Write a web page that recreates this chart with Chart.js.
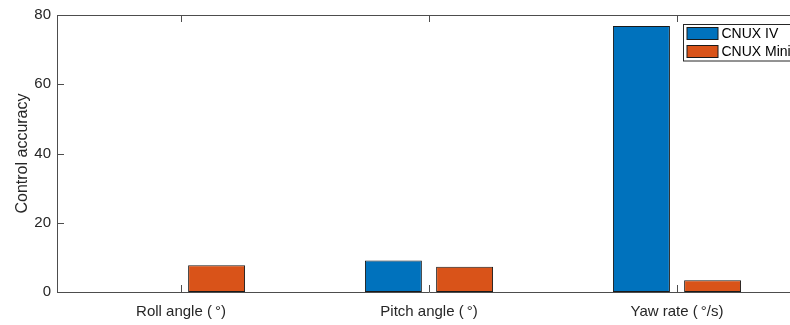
<!DOCTYPE html>
<html>
<head>
<meta charset="utf-8">
<script src="https://cdn.jsdelivr.net/npm/chart.js@4/dist/chart.umd.min.js"></script>
<style>
  html, body { margin: 0; padding: 0; background: #fff; overflow: hidden; }
  #wrap { width: 801px; height: 325px; position: relative; }
</style>
</head>
<body>
<div id="wrap"><canvas id="grafik"></canvas></div>
<script>
const kategoriler = ['Roll angle (\u2009\u00B0)', 'Pitch angle (\u2009\u00B0)', 'Yaw rate (\u2009\u00B0/s)'];
const seriAdlari = ['CNUX IV', 'CNUX Mini'];
const cnuxIV = [null, 9.1, 76.8];
const cnuxMini = [7.7, 7.3, 3.4];
const yTikler = [0, 20, 40, 60, 80];

const renkler = ['#0072BD', '#D95319'];
const eksenRengi = '#262626';
const yazi = '"Liberation Sans", Arial, Helvetica, sans-serif';

// MATLAB style inward ticks + top border
const icTikler = {
  id: 'icTikler',
  afterDraw(chart) {
    const { ctx, chartArea: a, scales: { x, y } } = chart;
    ctx.save();
    ctx.strokeStyle = '#4d4d4d';
    ctx.lineWidth = 1;
    ctx.beginPath();
    ctx.moveTo(a.left, a.top + 0.5);
    ctx.lineTo(a.right, a.top + 0.5);
    x.ticks.forEach((t, i) => {
      const px = Math.round(x.getPixelForTick(i)) + 0.5;
      ctx.moveTo(px, a.bottom);
      ctx.lineTo(px, a.bottom - 7);
      ctx.moveTo(px, a.top);
      ctx.lineTo(px, a.top + 7);
    });
    y.ticks.forEach((t, i) => {
      const py = Math.round(y.getPixelForTick(i)) + 0.5;
      ctx.moveTo(a.left, py);
      ctx.lineTo(a.left + 7, py);
    });
    ctx.stroke();
    ctx.restore();
  }
};

// legend box inside the axes, top right
const icLejant = {
  id: 'icLejant',
  afterDraw(chart) {
    const { ctx } = chart;
    const x0 = 683.5, y0 = 24.5, w = 112, h = 36.5;
    ctx.save();
    ctx.fillStyle = '#fff';
    ctx.fillRect(x0, y0, w, h);
    ctx.strokeStyle = '#262626';
    ctx.lineWidth = 1;
    ctx.strokeRect(x0, y0, w, h);
    ctx.font = '14px ' + yazi;
    ctx.textBaseline = 'middle';
    chart.data.datasets.forEach((ds, i) => {
      const cy = y0 + 9 + i * 18;
      ctx.fillStyle = ds.backgroundColor;
      ctx.fillRect(x0 + 3.5, cy - 6, 31, 12);
      ctx.strokeStyle = '#1a1a1a';
      ctx.strokeRect(x0 + 3.5, cy - 6, 31, 12);
      ctx.fillStyle = '#000';
      ctx.fillText(ds.label, x0 + 38, cy + 0.5);
    });
    ctx.restore();
  }
};

new Chart(document.getElementById('grafik').getContext('2d'), {
  type: 'bar',
  data: {
    labels: kategoriler,
    datasets: [
      { label: seriAdlari[0], data: cnuxIV, backgroundColor: renkler[0] },
      { label: seriAdlari[1], data: cnuxMini, backgroundColor: renkler[1] },
    ],
  },
  options: {
    responsive: true,
    maintainAspectRatio: false,
    animation: false,
    layout: { padding: { top: 15, right: 0, left: 0, bottom: 0 } },
    datasets: {
      bar: {
        categoryPercentage: 0.574,
        barPercentage: 0.80,
        borderColor: '#1a1a1a',
        borderWidth: 1,
        borderSkipped: false,
      },
    },
    plugins: {
      legend: { display: false },
      tooltip: { enabled: false },
    },
    scales: {
      x: {
        grid: { display: false, drawTicks: false },
        border: { color: '#4d4d4d', width: 1 },
        ticks: { color: eksenRengi, font: { family: yazi, size: 15 }, padding: 11, maxRotation: 0 },
        afterFit(s) { s.height = 33; },
      },
      y: {
        min: 0,
        max: 80,
        afterBuildTicks(s) { s.ticks = yTikler.map(v => ({ value: v })); },
        grid: { display: false, drawTicks: false },
        border: { color: '#4d4d4d', width: 1 },
        ticks: { color: eksenRengi, font: { family: yazi, size: 15 }, padding: 6 },
        title: {
          display: true,
          text: 'Control accuracy',
          color: eksenRengi,
          font: { family: yazi, size: 16 },
          padding: { top: 13, bottom: 0 },
        },
        afterFit(s) { s.width = 57; },
      },
    },
  },
  plugins: [icTikler, icLejant],
});
</script>
</body>
</html>
